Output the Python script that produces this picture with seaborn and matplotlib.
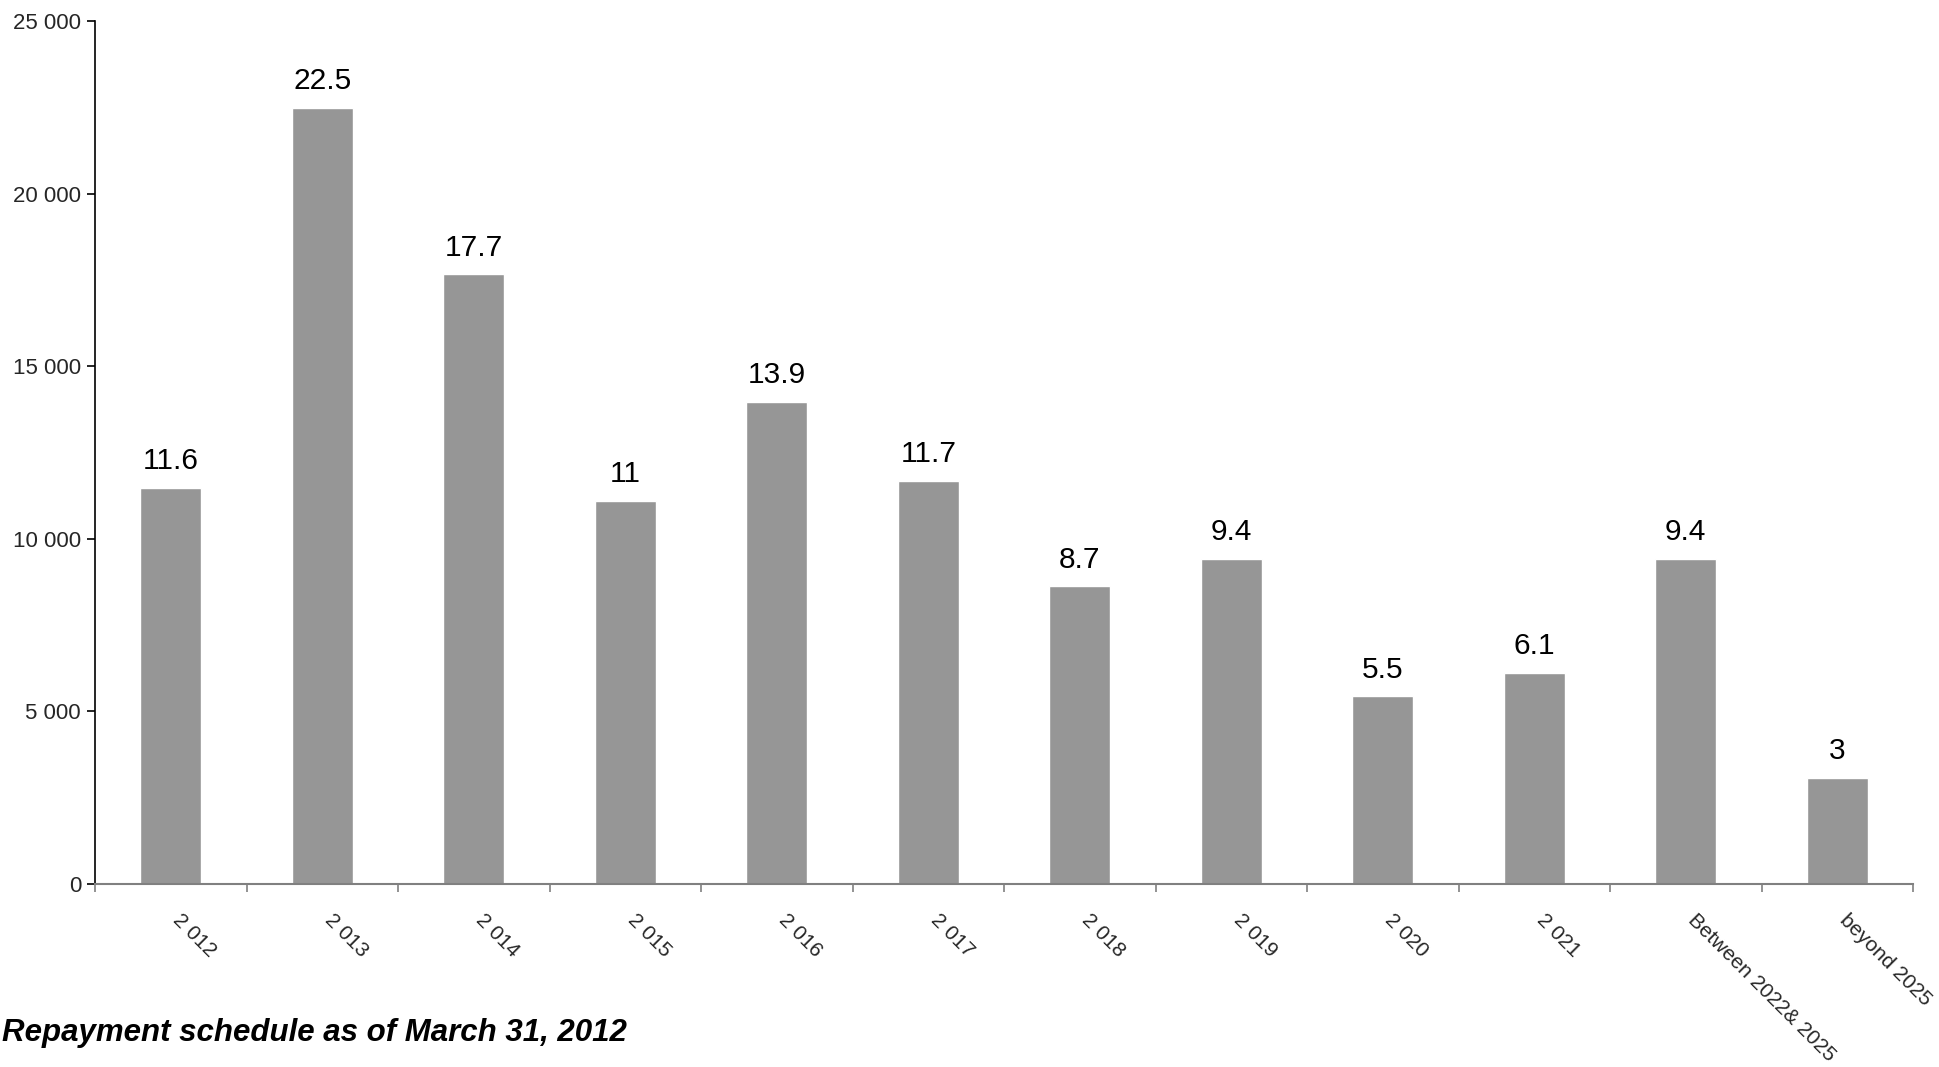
import numpy as np
import matplotlib
matplotlib.use("Agg")
import matplotlib.pyplot as plt
import matplotlib.transforms as mtransforms
import seaborn as sns
from matplotlib.ticker import FuncFormatter

# Data
categories = ["2 012", "2 013", "2 014", "2 015", "2 016", "2 017", "2 018",
              "2 019", "2 020", "2 021", "Between 2022& 2025", "beyond 2025"]
amounts = [11480, 22490, 17660, 11100, 13970, 11680, 8630,
           9420, 5440, 6120, 9420, 3080]
bar_labels = ["11.6", "22.5", "17.7", "11", "13.9", "11.7", "8.7",
              "9.4", "5.5", "6.1", "9.4", "3"]
y_ticks = [0, 5000, 10000, 15000, 20000, 25000]

sns.set_theme(style="white")
plt.rcParams["font.family"] = ["Liberation Sans", "DejaVu Sans"]

fig = plt.figure(figsize=(19.39, 10.67), dpi=100)
ax = fig.add_axes([0.049, 0.1715, 0.9376, 0.8088])

sns.barplot(x=categories, y=amounts, color="#969696", width=0.4,
            saturation=1, ax=ax)

# value labels above bars
for i, (v, lab) in enumerate(zip(amounts, bar_labels)):
    ax.annotate(lab, (i, v), xytext=(0, 9), textcoords="offset points",
                ha="center", va="bottom", fontsize=21.5, color="black")

ax.set_xlim(-0.5, len(categories) - 0.5)
ax.set_ylim(0, 25000)
ax.set_yticks(y_ticks)
ax.yaxis.set_major_formatter(FuncFormatter(lambda v, p: f"{int(v):,}".replace(",", " ")))
ax.tick_params(axis="y", left=True, length=6, width=1.2, color="black",
               labelsize=16, pad=4)

# category boundary ticks on x axis
ax.set_xticks(np.arange(-0.5, len(categories), 1), minor=True)
ax.tick_params(axis="x", which="minor", bottom=True, length=6, width=1.2, color="#808080")
ax.tick_params(axis="x", which="major", bottom=False, length=0, pad=19)
ax.set_xticklabels(categories, rotation=-45, ha="left", va="top",
                   rotation_mode="anchor", fontsize=15)
shift = mtransforms.ScaledTranslation(0.12, 0, fig.dpi_scale_trans)
for lab in ax.get_xticklabels():
    lab.set_transform(lab.get_transform() + shift)

for s in ["top", "right"]:
    ax.spines[s].set_visible(False)
ax.spines["left"].set_color("black")
ax.spines["left"].set_linewidth(1.2)
ax.spines["bottom"].set_color("#808080")
ax.spines["bottom"].set_linewidth(1.5)
ax.set_xlabel("")
ax.set_ylabel("")

fig.text(0.001, 1 - 1041 / 1067, "Repayment schedule as of March 31, 2012",
         ha="left", va="baseline", fontsize=22.5, fontweight="bold",
         fontstyle="italic", color="black")

fig.savefig("out.png", dpi=100, facecolor="white")
